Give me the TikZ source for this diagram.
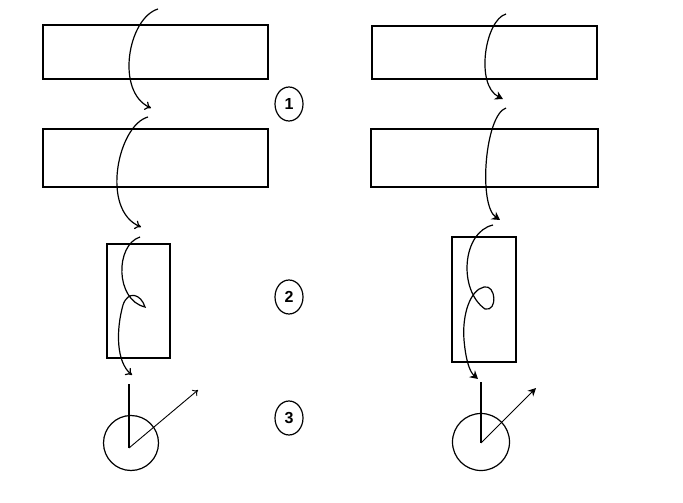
\documentclass[tikz,border=0pt]{standalone}
\usepackage{fontspec}
\setmainfont{Liberation Sans}
\usetikzlibrary{arrows.meta,shapes.geometric}
\begin{document}
\begin{tikzpicture}[x=1pt,y=-1pt,
  box/.style={draw,line width=1.1pt},
  crv/.style={line width=1.2pt},
  lhead/.style={-{To[length=6pt,width=9pt]}},
  rhead/.style={-{Stealth[length=8pt,width=9pt]}},
  num/.style={draw,ellipse,line width=1.2pt,minimum width=28pt,minimum height=34pt,inner sep=0pt,font=\fontsize{16}{16}\selectfont\bfseries},
  dial/.style={draw,circle,line width=1.2pt,minimum size=55pt,inner sep=0pt}]
\useasboundingbox (0,0) rectangle (683,503);
% left column
\node[box,minimum width=225pt,minimum height=54pt,inner sep=0pt] (a1) at (155.5,52) {};
\node[box,minimum width=225pt,minimum height=58pt,inner sep=0pt] (a2) at (155.5,158) {};
\node[box,minimum width=63pt,minimum height=114pt,inner sep=0pt] (b) at (138.5,301) {};
\node[dial] (c) at (131,443) {};
% right column
\node[box,minimum width=225pt,minimum height=53pt,inner sep=0pt] (d1) at (484.5,52.5) {};
\node[box,minimum width=227pt,minimum height=58pt,inner sep=0pt] (d2) at (484.5,158) {};
\node[box,minimum width=64pt,minimum height=125pt,inner sep=0pt] (e) at (484,299.5) {};
\node[dial,minimum size=57pt] (f) at (481,442) {};
% numbers
\node[num] (n1) at (289,104) {1};
\node[num] (n2) at (289,297) {2};
\node[num] (n3) at (289,418) {3};
% left curves
\coordinate (s1) at (158,9);
\coordinate (t1) at (151,108);
\coordinate (s2) at (148,117);
\coordinate (t2) at (141,227);
\coordinate (s3) at (140,237);
\coordinate (t3) at (132,375);
\coordinate (l1) at (129,384);
\coordinate (l2) at (129,448);
\coordinate (l3) at (198,390);
\draw[crv,lhead] (s1) .. controls (128,18) and (115,92) .. (t1);
\draw[crv,lhead] (s2) .. controls (118,125) and (100,210) .. (t2);
\draw[crv,lhead] (s3) .. controls (115,245) and (115,300) .. (145,307)
  .. controls (141,294) and (128,290) .. (123,305)
  .. controls (116,330) and (116,362) .. (t3);
\draw[line width=1.2pt] (l1) -- (l2);
\draw[line width=0.9pt,-{To[length=5pt,width=8pt]}] (l2) -- (l3);
% right curves
\coordinate (r1) at (506,14);
\coordinate (u1) at (503,99);
\coordinate (r2) at (506,108);
\coordinate (u2) at (500,220);
\coordinate (r3) at (493,225);
\coordinate (u3) at (478,379);
\coordinate (m1) at (481,382);
\coordinate (m2) at (481,443);
\coordinate (m3) at (536,388);
\draw[crv,rhead] (r1) .. controls (485,20) and (475,85) .. (u1);
\draw[crv,rhead] (r2) .. controls (485,115) and (478,205) .. (u2);
\draw[crv,rhead] (r3) .. controls (462,232) and (458,290) .. (485,309)
  .. controls (498,312) and (496,284) .. (484,287)
  .. controls (470,290) and (462,315) .. (464,340)
  .. controls (466,362) and (470,372) .. (u3);
\draw[line width=1.2pt] (m1) -- (m2);
\draw[line width=0.9pt,-{Stealth[length=8pt,width=8pt]}] (m2) -- (m3);
\end{tikzpicture}
\end{document}
